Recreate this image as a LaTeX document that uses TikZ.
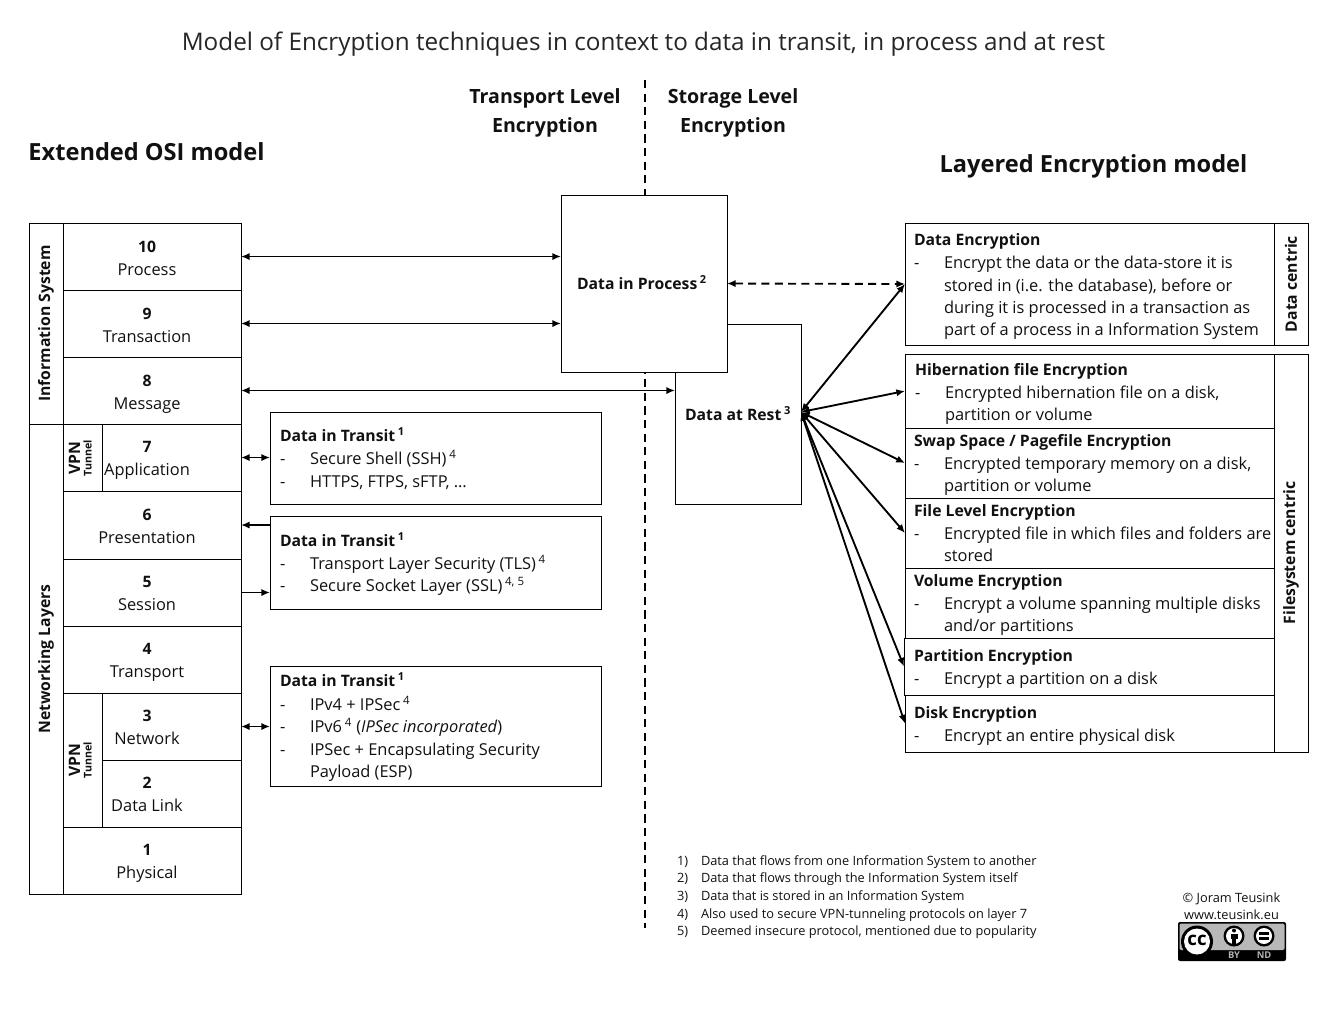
\documentclass[tikz,border=0pt]{standalone}
\usepackage{fontspec}
\setmainfont{Open Sans}
\usetikzlibrary{arrows.meta,calc}
\definecolor{ink}{HTML}{111111}
\newcount\tlc
\newcommand{\tline}[4][]{\global\advance\tlc by 1
  \node[txt,yshift=-0.75pt,#1] (tl\the\tlc) at (#2,#3) {#4};}
\newcommand{\bx}[6][]{\node[boxn,#1,minimum width={(#5-#3)*0.75pt},minimum height={(#6-#4)*0.75pt}] (#2) at ({(#3+#5)/2},{(#4+#6)/2}) {};}
\newcommand{\sps}[1]{\,\textsuperscript{#1}}
\begin{document}
\begin{tikzpicture}[x=0.75pt,y=-0.75pt,
  txt/.style={anchor=base west,inner sep=0pt,outer sep=0pt,text=ink,font=\fontsize{12.3pt}{14pt}\selectfont},
  ctr/.style={txt,anchor=base},
  hd/.style={font=\fontsize{11.8pt}{14pt}\bfseries\selectfont},
  hdl/.style={hd,yshift=0.75pt},
  big/.style={font=\fontsize{17.7pt}{20pt}\bfseries\selectfont},
  sub/.style={font=\fontsize{14.7pt}{18pt}\bfseries\selectfont},
  fn/.style={font=\fontsize{9.6pt}{12pt}\selectfont},
  boxn/.style={draw=black,line width=0.72pt,fill=white,inner sep=0pt,outer sep=0pt},
  conn/.style={line width=1.4pt,black,{Latex[length=6.5pt,width=5.5pt]}-{Latex[length=6.5pt,width=5.5pt]}},
  conr/.style={line width=1.4pt,black,-{Latex[length=6.5pt,width=5.5pt]}},
  divide/.style={line width=1.3pt,black,dash pattern=on 6.2pt off 4pt},
  rot/.style={anchor=center,inner sep=0pt,rotate=90,text=ink},
  rotb/.style={rot,font=\fontsize{11.8pt}{14pt}\bfseries\selectfont},
  tun/.style={rot,font=\fontsize{8pt}{8pt}\bfseries\selectfont},
]
\useasboundingbox (0,0) rectangle (1344,1008);
\fill[white] (0,0) rectangle (1344,1008);
% title and headers
\node[txt,anchor=base,text=black!85,font=\fontsize{18.2pt}{22pt}\selectfont] (title) at (643.5,50) {Model of Encryption techniques in context to data in transit, in process and at rest};
\node[ctr,big] (ttl1) at (146.5,160) {Extended OSI model};
\node[ctr,big] (ttl2) at (1093.5,172) {Layered Encryption model};
\node[ctr,sub] (ttl3) at (545,103) {Transport Level};
\node[ctr,sub] (ttl4) at (545,132) {Encryption};
\node[ctr,sub] (ttl5) at (733,103) {Storage Level};
\node[ctr,sub] (ttl6) at (733,132) {Encryption};
% divider
\coordinate (divtop) at (645,80);
\coordinate (divbot) at (645,928);
\draw[divide] (divtop) -- (divbot);
% centre boxes
\bx{DR}{675}{324}{801}{504}
\bx{DP}{561}{195}{727}{372}
\node[ctr,hd] (dptext) at (642,289.5) {Data in Process\sps{2}};
\node[ctr,hd] (drtext) at (738,420.5) {Data at Rest\sps{3}};
% left stack
\bx{IS}{29}{223}{63}{424}
\bx{NL}{29}{424}{63}{894}
\node[rotb] (istext) at (46,323.5) {Information System};
\node[rotb] (nltext) at (46,659) {Networking Layers};
\bx{L10}{63}{223}{241}{290}
\bx{L9}{63}{290}{241}{357}
\bx{L8}{63}{357}{241}{424}
\bx{L7}{63}{424}{241}{491}
\bx{L6}{63}{491}{241}{559}
\bx{L5}{63}{559}{241}{626}
\bx{L4}{63}{626}{241}{693}
\bx{L3}{63}{693}{241}{760}
\bx{L2}{63}{760}{241}{827}
\bx{L1}{63}{827}{241}{894}
\bx{V1}{63}{424}{102}{491}
\bx{V2}{63}{693}{102}{827}
\node[rotb] (v1a) at (74.5,458) {VPN};
\node[tun] (v1b) at (87.5,458) {Tunnel};
\node[rotb] (v2a) at (74.5,760) {VPN};
\node[tun] (v2b) at (87.5,760) {Tunnel};
\foreach \n/\m/\yy in {10/Process/252,9/Transaction/319,8/Message/386,7/Application/452,6/Presentation/520,5/Session/587,4/Transport/654,3/Network/721,2/Data Link/788,1/Physical/855}{
  \node[ctr,hd] (num\n) at (147,\yy) {\n};
  \node[ctr] (name\n) at (147,\yy+23) {\m};
}
% transit boxes
\bx{T1}{270}{412}{601}{504}
\bx{T2}{270}{516}{601}{609}
\bx{T3}{270}{666}{601}{786}
\tline[hdl]{280}{441}{Data in Transit\sps{1}}
\tline{280}{463}{-}\tline{310}{463}{Secure Shell (SSH)\sps{4}}
\tline{280}{486}{-}\tline{310}{486}{HTTPS, FTPS, sFTP, \dots}
\tline[hdl]{280}{546}{Data in Transit\sps{1}}
\tline{280}{568}{-}\tline{310}{568}{Transport Layer Security (TLS)\sps{4}}
\tline{280}{590}{-}\tline{310}{590}{Secure Socket Layer (SSL)\sps{4, 5}}
\tline[hdl]{280}{686}{Data in Transit\sps{1}}
\tline{280}{709}{-}\tline{310}{709}{IPv4 + IPSec\sps{4}}
\tline{280}{731}{-}\tline{310}{731}{IPv6\sps{4} (\textit{IPSec incorporated})}
\tline{280}{754}{-}\tline{310}{754}{IPSec + Encapsulating Security}
\tline{310}{776}{Payload (ESP)}
% right boxes
\bx{DE}{905}{223}{1274}{345}
\bx{DC}{1274}{223}{1308}{345}
\bx{FC}{1274}{354}{1308}{752}
\bx{HB}{905}{354}{1274}{428}
\bx{SW}{905}{428}{1274}{498}
\bx{FL}{905}{498}{1274}{568}
\bx{VO}{905}{568}{1274}{638}
\bx{DK}{905}{695}{1274}{752}
\bx{PA}{904}{638}{1274}{695}
\node[rotb] (dctext) at (1291,284) {Data centric};
\node[rotb] (fctext) at (1291,553) {Filesystem centric};
\tline[hdl]{914}{245}{Data Encryption}
\tline{914}{267}{-}\tline{944}{267}{Encrypt the data or the data-store it is}
\tline{944}{290}{stored in (i.e. the database), before or}
\tline{944}{312}{during it is processed in a transaction as}
\tline{944}{334}{part of a process in a Information System}
\tline[hdl]{915}{375}{Hibernation file Encryption}
\tline{915}{397}{-}\tline{945}{397}{Encrypted hibernation file on a disk,}
\tline{945}{419}{partition or volume}
\tline[hdl]{914}{446}{Swap Space / Pagefile Encryption}
\tline{914}{468}{-}\tline{944}{468}{Encrypted temporary memory on a disk,}
\tline{944}{490}{partition or volume}
\tline[hdl]{914}{516}{File Level Encryption}
\tline{914}{538}{-}\tline{944}{538}{Encrypted file in which files and folders are}
\tline{944}{560}{stored}
\tline[hdl]{914}{586}{Volume Encryption}
\tline{914}{608}{-}\tline{944}{608}{Encrypt a volume spanning multiple disks}
\tline{944}{630}{and/or partitions}
\tline[hdl]{914}{661}{Partition Encryption}
\tline{914}{683}{-}\tline{944}{683}{Encrypt a partition on a disk}
\tline[hdl]{914}{718}{Disk Encryption}
\tline{914}{740}{-}\tline{944}{740}{Encrypt an entire physical disk}
% connectors
\draw[conn] (L10.east) -- (DP.west |- L10.east);
\draw[conn] (L9.east) -- (DP.west |- L9.east);
\draw[conn] (L8.east) -- (DR.west |- L8.east);
\draw[conn] (L7.east) -- (T1.west |- L7.east);
\draw[conr] (T2.west |- L6.east) -- (L6.east);
\draw[conr] (L5.east) -- (T2.west |- L5.east);
\draw[conn] (L3.east) -- (T3.west |- L3.east);
\draw[conn,dash pattern=on 6pt off 4pt] (DP.east) -- (DE.west);
\coordinate (hub) at ($(DR.east)+(0,-2)$);
\foreach \t in {DE,HB,SW,FL,PA,DK}{
  \draw[conn] (hub) -- (\t.west);
}
% footnotes
\foreach \k/\yy/\s in {1/865/Data that flows from one Information System to another,2/882/Data that flows through the Information System itself,3/900/Data that is stored in an Information System,4/918/Also used to secure VPN-tunneling protocols on layer 7,5/935/{Deemed insecure protocol, mentioned due to popularity}}{
  \node[txt,fn] (fna\k) at (677,\yy) {\k)};
  \node[txt,fn] (fnb\k) at (701,\yy) {\s};
}
\node[ctr,fn] (cr1) at (1231.5,902) {© Joram Teusink};
\node[ctr,fn] (cr2) at (1231.5,919) {www.teusink.eu};
% licence badge
\fill[black,rounded corners=1.5pt] (1178,922) rectangle (1286,961);
\fill[black!28!white,rounded corners=1pt] (1179.5,923.5) rectangle (1284.5,950);
\fill[black] (1197,941.5) circle[radius=16];
\fill[white] (1197,941.5) circle[radius=13];
\node[anchor=center,inner sep=0pt,font=\fontsize{14pt}{14pt}\bfseries\selectfont,text=black] (cc) at (1197,940) {cc};
\fill[black] (1234,936) circle[radius=10.5];
\fill[white] (1234,936) circle[radius=8];
\fill[black] (1234,930.5) circle[radius=2];
\fill[black] (1230.5,933.5) rectangle (1237.5,939);
\fill[black] (1232.3,939) rectangle (1235.7,944);
\fill[black] (1264,936) circle[radius=10.5];
\fill[white] (1264,936) circle[radius=8];
\fill[black] (1259,932) rectangle (1269,934.7);
\fill[black] (1259,937.3) rectangle (1269,940);
\node[anchor=center,inner sep=0pt,font=\fontsize{7pt}{7pt}\bfseries\selectfont,text=black!30!white] (ccby) at (1234,955.5) {BY};
\node[anchor=center,inner sep=0pt,font=\fontsize{7pt}{7pt}\bfseries\selectfont,text=black!30!white] (ccnd) at (1264,955.5) {ND};
\end{tikzpicture}
\end{document}
